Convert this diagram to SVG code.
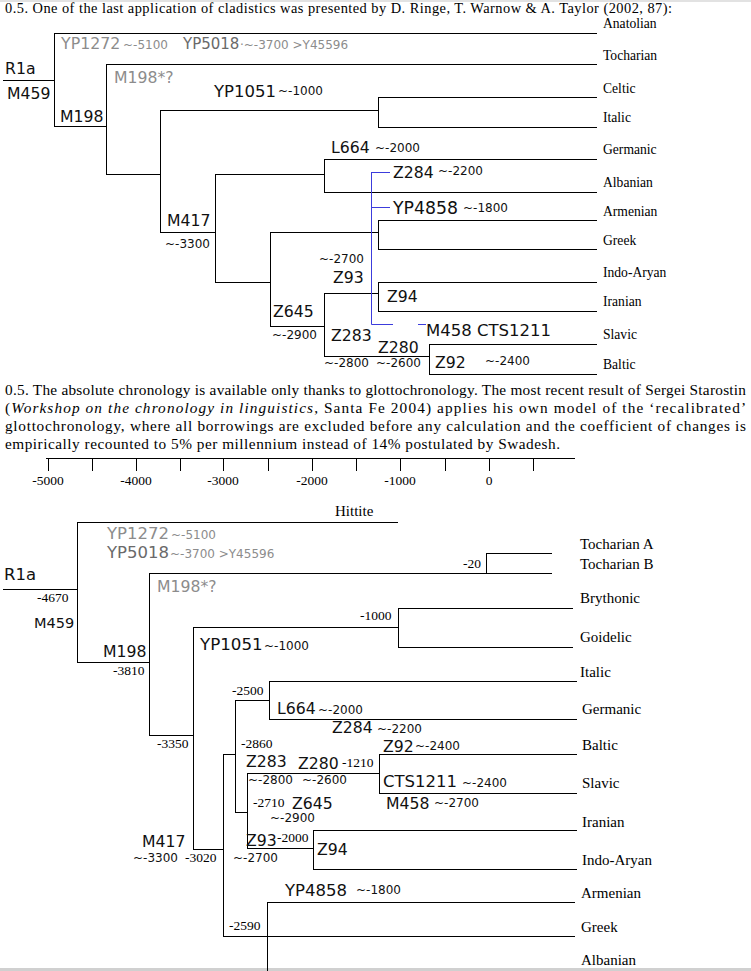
<svg xmlns="http://www.w3.org/2000/svg" width="751" height="971" viewBox="0 0 751 971">
<style>
.ln{stroke:#000;stroke-width:1;fill:none}
.bl{stroke:#3c3cdc;stroke-width:1;fill:none}
.tm{font-family:"Liberation Serif","Times New Roman",serif;fill:#000}
.h{font-size:14.4px}
.p{font-size:15.3px}
.lg{font-size:13.6px}
.lg2{font-size:15px}
.nm{font-size:13.5px}
.sn{font-family:"DejaVu Sans",Verdana,sans-serif;fill:#111}
.b{font-size:15.7px}
.s{font-size:12px}
.g1{fill:#8c8c8c}
.g2{fill:#6a6a6a}
</style>
<rect x="0" y="0" width="751" height="971" fill="#fff"/>
<rect x="0" y="0" width="751" height="2" fill="#e2e2e2"/>
<rect x="0" y="968" width="751" height="3" fill="#d0d0d0"/>

<g id="texts">
<text class="tm h" x="5" y="13" textLength="667" lengthAdjust="spacing">0.5. One of the last application of cladistics was presented by D. Ringe, T. Warnow &amp; A. Taylor (2002, 87):</text>
<text class="tm p" x="5" y="395" textLength="741" lengthAdjust="spacing">0.5. The absolute chronology is available only thanks to glottochronology. The most recent result of Sergei Starostin</text>
<text class="tm p" x="5" y="413" textLength="741" lengthAdjust="spacing">(<tspan font-style="italic">Workshop on the chronology in linguistics</tspan>, Santa Fe 2004) applies his own model of the ‘recalibrated’</text>
<text class="tm p" x="5" y="431" textLength="741" lengthAdjust="spacing">glottochronology, where all borrowings are excluded before any calculation and the coefficient of changes is</text>
<text class="tm p" x="5" y="449" textLength="555" lengthAdjust="spacing">empirically recounted to 5% per millennium instead of 14% postulated by Swadesh.</text>
</g>

<g id="axis">
<path class="ln" d="M46 458.5 H575 M48.5 458 V471 M92.5 458 V471 M136.5 458 V471 M180.5 458 V471 M223.5 458 V471 M268.5 458 V471 M312.5 458 V471 M356.5 458 V471 M400.5 458 V471 M445.5 458 V471 M489.5 458 V471 M533.5 458 V471"/>
<g class="tm nm" text-anchor="middle">
<text x="48" y="485">-5000</text>
<text x="136" y="485">-4000</text>
<text x="223" y="485">-3000</text>
<text x="312" y="485">-2000</text>
<text x="400" y="485">-1000</text>
<text x="489" y="485">0</text>
</g>
</g>

<g id="connectors">
<path class="ln" d="M3 80.5 H54.5 M54.5 33 V127 M54.5 33.5 H597 M54.5 126.5 H106.5 M106.5 64 V175 M106.5 64.5 H597 M106.5 174.5 H160.5 M160.5 110 V233 M160.5 110.5 H378.5 M378.5 97 V128 M378.5 97.5 H597 M378.5 127.5 H597 M160.5 232.5 H215.5 M215.5 174 V283 M215.5 174.5 H324.5 M324.5 159 V193 M324.5 159.5 H597 M324.5 192.5 H597 M215.5 282.5 H270.5 M270.5 232 V327 M270.5 232.5 H378.5 M378.5 220 V250 M378.5 220.5 H597 M378.5 249.5 H597 M270.5 326.5 H324.5 M324.5 293 V357 M324.5 293.5 H378.5 M378.5 282 V312 M378.5 282.5 H597 M378.5 311.5 H597 M324.5 356.5 H429.5 M429.5 344 V375 M429.5 344.5 H597 M429.5 374.5 H597"/>
<path class="bl" d="M371.5 172 V324.5 M371.5 172.5 H390 M371.5 207.5 H390 M371.5 324.5 H393 M418 324.5 H426"/>
<path class="ln" d="M3 589.5 H77.5 M77.5 522 V663 M77.5 522.5 H398 M77.5 662.5 H149.5 M149.5 573 V736 M149.5 573.5 H552 M486.5 553 V574 M486.5 553.5 H552 M149.5 735.5 H193.5 M193.5 627 V850 M193.5 627.5 H398.5 M398.5 608 V648 M398.5 608.5 H573 M398.5 647.5 H573 M193.5 849.5 H223.5 M223.5 754 V937 M223.5 754.5 H235.5 M235.5 700 V813 M235.5 700.5 H269.5 M269.5 681 V720 M269.5 681.5 H577 M269.5 719.5 H577 M235.5 812.5 H247.5 M247.5 773 V849 M247.5 773.5 H379.5 M379.5 754 V794 M379.5 754.5 H577 M379.5 793.5 H577 M247.5 848.5 H313.5 M313.5 830 V870 M313.5 830.5 H577 M313.5 869.5 H577 M223.5 936.5 H575 M267.5 902 V971 M267.5 902.5 H575"/>
</g>

<g id="top-languages" class="tm lg">
<text id="t-anatolian" x="603" y="28">Anatolian</text>
<text id="t-tocharian" x="603" y="60">Tocharian</text>
<text id="t-celtic" x="603" y="93">Celtic</text>
<text id="t-italic" x="603" y="122">Italic</text>
<text id="t-germanic" x="603" y="154">Germanic</text>
<text id="t-albanian" x="603" y="187">Albanian</text>
<text id="t-armenian" x="603" y="216">Armenian</text>
<text id="t-greek" x="603" y="245">Greek</text>
<text id="t-indoaryan" x="603" y="277">Indo-Aryan</text>
<text id="t-iranian" x="603" y="306">Iranian</text>
<text id="t-slavic" x="603" y="339">Slavic</text>
<text id="t-baltic" x="603" y="369">Baltic</text>
</g>

<g id="top-markers" class="sn">
<g id="t-r1a"><text class="b" x="5" y="74" font-size="16.5">R1a</text><text class="b" x="7" y="99" font-size="15">M459</text></g>
<g id="t-yp1272"><text class="g1" x="61" y="49" font-size="15.8">YP1272</text><text class="s g1" x="123" y="49" font-size="11.5">~-5100</text></g>
<g id="t-yp5018"><text class="g2" x="183" y="49" font-size="15">YP5018</text><text class="s g1" x="240" y="49" font-size="11.5">·~-3700 &gt;Y45596</text></g>
<g id="t-m198"><text class="b" x="60" y="122">M198</text><text class="b g1" x="114" y="83" font-size="16.3">M198*?</text></g>
<g id="t-yp1051"><text x="214" y="97" font-size="16.5">YP1051</text><text class="s" x="278" y="95">~-1000</text></g>
<g id="t-m417"><text class="b" x="167" y="226">M417</text><text class="s" x="165" y="248">~-3300</text></g>
<g id="t-l664"><text class="b" x="331" y="153">L664</text><text class="s" x="375" y="152">~-2000</text></g>
<g id="t-z284"><text class="b" x="393" y="178">Z284</text><text class="s" x="438" y="175" font-size="11.5">~-2200</text></g>
<g id="t-yp4858"><text x="393" y="214" font-size="17.3">YP4858</text><text class="s" x="463" y="212">~-1800</text></g>
<g id="t-z93"><text class="s" x="319" y="263">~-2700</text><text class="b" x="333" y="283">Z93</text></g>
<g id="t-z94"><text class="b" x="387" y="302">Z94</text></g>
<g id="t-z645"><text class="b" x="273" y="317">Z645</text><text class="s" x="272" y="339">~-2900</text></g>
<g id="t-z283"><text class="b" x="331" y="341">Z283</text><text class="s" x="324" y="367">~-2800</text></g>
<g id="t-m458"><text x="426" y="336" font-size="16.5">M458 CTS1211</text></g>
<g id="t-z280"><text class="b" x="378" y="353">Z280</text><text class="s" x="376" y="367">~-2600</text></g>
<g id="t-z92"><text class="b" x="435" y="368">Z92</text><text class="s" x="485" y="365">~-2400</text></g>
</g>

<g id="bottom-languages" class="tm lg2">
<text id="b-hittite" x="335" y="516">Hittite</text>
<text id="b-tochA" x="580" y="549">Tocharian A</text>
<text id="b-tochB" x="580" y="569">Tocharian B</text>
<text id="b-brythonic" x="580" y="603">Brythonic</text>
<text id="b-goidelic" x="580" y="642">Goidelic</text>
<text id="b-italic" x="580" y="677">Italic</text>
<text id="b-germanic" x="582" y="714">Germanic</text>
<text id="b-baltic" x="582" y="750">Baltic</text>
<text id="b-slavic" x="582" y="788">Slavic</text>
<text id="b-iranian" x="582" y="827">Iranian</text>
<text id="b-indoaryan" x="582" y="865">Indo-Aryan</text>
<text id="b-armenian" x="581" y="898">Armenian</text>
<text id="b-greek" x="581" y="932">Greek</text>
<text id="b-albanian" x="581" y="965">Albanian</text>
</g>

<g id="bottom-dates" class="tm nm">
<text x="37" y="602">-4670</text>
<text x="113" y="675">-3810</text>
<text x="463" y="568">-20</text>
<text x="360" y="620">-1000</text>
<text x="157" y="748">-3350</text>
<text x="232" y="695">-2500</text>
<text x="241" y="748">-2860</text>
<text x="342" y="767">-1210</text>
<text x="253" y="807">-2710</text>
<text x="277" y="842">-2000</text>
<text x="185" y="862">-3020</text>
<text x="229" y="930">-2590</text>
</g>

<g id="bottom-markers" class="sn">
<g id="b-r1a"><text x="4" y="580" font-size="16.5">R1a</text><text x="34" y="628" font-size="14.5">M459</text></g>
<g id="b-yp1272"><text class="g1" x="107" y="539" font-size="16.5">YP1272</text><text class="s g1" x="171" y="539">~-5100</text></g>
<g id="b-yp5018"><text class="g2" x="107" y="558" font-size="16.5">YP5018</text><text class="s g1" x="170" y="558">~-3700 &gt;Y45596</text></g>
<g id="b-m198"><text class="b" x="103" y="657">M198</text><text class="b g1" x="157" y="592" font-size="16.3">M198*?</text></g>
<g id="b-yp1051"><text x="200" y="650" font-size="16.7">YP1051</text><text class="s" x="264" y="650">~-1000</text></g>
<g id="b-l664"><text class="b" x="277" y="714">L664</text><text class="s" x="318" y="714">~-2000</text></g>
<g id="b-z284"><text class="b" x="332" y="733">Z284</text><text class="s" x="377" y="733">~-2200</text></g>
<g id="b-z92"><text class="b" x="383" y="752">Z92</text><text class="s" x="415" y="750">~-2400</text></g>
<g id="b-z283"><text class="b" x="246" y="767">Z283</text><text class="s" x="248" y="784">~-2800</text></g>
<g id="b-z280"><text class="b" x="298" y="769">Z280</text><text class="s" x="302" y="784">~-2600</text></g>
<g id="b-cts1211"><text x="383" y="787" font-size="16.5">CTS1211</text><text class="s" x="462" y="787">~-2400</text></g>
<g id="b-m458"><text class="b" x="386" y="809">M458</text><text class="s" x="434" y="807">~-2700</text></g>
<g id="b-z645"><text class="b" x="292" y="809">Z645</text><text class="s" x="270" y="822">~-2900</text></g>
<g id="b-z93"><text class="b" x="246" y="846">Z93</text><text class="s" x="233" y="862">~-2700</text></g>
<g id="b-z94"><text class="b" x="317" y="855">Z94</text></g>
<g id="b-m417"><text class="b" x="142" y="847">M417</text><text class="s" x="133" y="862">~-3300</text></g>
<g id="b-yp4858"><text x="285" y="896" font-size="16.5">YP4858</text><text class="s" x="356" y="894">~-1800</text></g>
</g>
</svg>
